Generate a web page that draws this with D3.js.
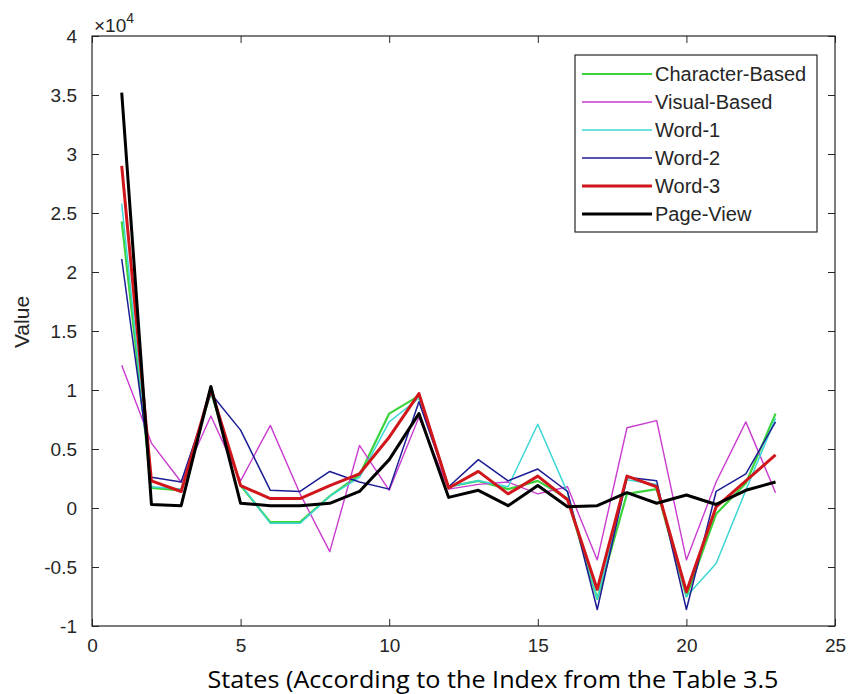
<!DOCTYPE html>
<html>
<head>
<meta charset="utf-8">
<script src="https://cdn.jsdelivr.net/npm/d3@7"></script>
<style>
  html, body { margin: 0; padding: 0; background: #fff; }
  svg { display: block; }
</style>
</head>
<body>
<svg id="chart"></svg>
<script>
// states 1..23
const states = d3.range(1, 24);

const characterBased = [24300, 1700, 1500, 9800, 1900, -1200, -1200, 1000, 2800, 8000, 9500, 1800, 2300, 1600, 2300, 800, -7700, 1200, 1600, -7500, -500, 2100, 8000];
const visualBased    = [12100, 5500, 2200, 7800, 2300, 7000, 1200, -3700, 5300, 1500, 7700, 1600, 2000, 2200, 1200, 1800, -4400, 6800, 7400, -4400, 2200, 7300, 1300];
const word1          = [25800, 1800, 1600, 9800, 2000, -1300, -1300, 1000, 2600, 7300, 9300, 1800, 2300, 1800, 7100, 1300, -7700, 2400, 2000, -7500, -4700, 1500, 7600];
const word2          = [21100, 2600, 2200, 9700, 6600, 1500, 1400, 3100, 2200, 1600, 9000, 1800, 4100, 2300, 3300, 1400, -8600, 2600, 2300, -8600, 1400, 2900, 7300];
const word3          = [29000, 2300, 1400, 10100, 1900, 800, 800, 1900, 2900, 6000, 9700, 1700, 3100, 1200, 2700, 700, -6900, 2700, 1800, -7100, 100, 2300, 4500];
const pageView       = [35200, 300, 200, 10300, 400, 200, 200, 400, 1400, 4100, 8000, 900, 1500, 200, 1900, 100, 200, 1300, 400, 1100, 300, 1500, 2200];

const xTicks = [0, 5, 10, 15, 20, 25];
const yTicks = [-10000, -5000, 0, 5000, 10000, 15000, 20000, 25000, 30000, 35000, 40000];

const series = [
	{ name: "Character-Based", values: characterBased, color: "#3cd43c", width: 2.2 },
	{ name: "Visual-Based",    values: visualBased,    color: "#c93ccf", width: 1.4 },
	{ name: "Word-1",          values: word1,          color: "#3cd6d6", width: 1.5 },
	{ name: "Word-2",          values: word2,          color: "#1c1c94", width: 1.5 },
	{ name: "Word-3",          values: word3,          color: "#d0161b", width: 3 },
	{ name: "Page-View",       values: pageView,       color: "#000000", width: 3 }
];

const width = 852;
const height = 694;
const box = { left: 92, right: 835, top: 36, bottom: 626 };
const axisColor = "#262626";
const tickLen = 7;
const font = "'Liberation Sans', Arial, sans-serif";

const svg = d3.select("#chart")
	.attr("width", width)
	.attr("height", height);

const x = d3.scaleLinear().domain([0, 25]).range([box.left, box.right]);
const y = d3.scaleLinear().domain([-10000, 40000]).range([box.bottom, box.top]);

// ticks, all pointing inward like matlab
const tickFmt = v => String(v / 10000);

svg.append("g")
	.attr("transform", `translate(0, ${box.bottom})`)
	.call(d3.axisBottom(x).tickValues(xTicks).tickSize(-tickLen).tickPadding(13).tickFormat(d3.format("d")))
	.call(g => g.select(".domain").remove());

svg.append("g")
	.attr("transform", `translate(0, ${box.top})`)
	.call(d3.axisTop(x).tickValues(xTicks).tickSize(-tickLen).tickFormat(""))
	.call(g => g.select(".domain").remove());

svg.append("g")
	.attr("transform", `translate(${box.left}, 0)`)
	.call(d3.axisLeft(y).tickValues(yTicks).tickSize(-tickLen).tickPadding(15).tickFormat(tickFmt))
	.call(g => g.select(".domain").remove());

svg.append("g")
	.attr("transform", `translate(${box.right}, 0)`)
	.call(d3.axisRight(y).tickValues(yTicks).tickSize(-tickLen).tickFormat(""))
	.call(g => g.select(".domain").remove());

svg.selectAll(".tick line").attr("stroke", axisColor).attr("stroke-width", 1);
svg.selectAll(".tick text")
	.attr("fill", axisColor)
	.style("font-family", font)
	.style("font-size", "19px");

// lines
const line = d3.line()
	.x((d, i) => x(states[i]))
	.y(d => y(d));

svg.append("g")
	.selectAll("path")
	.data(series)
	.join("path")
	.attr("d", s => line(s.values))
	.attr("fill", "none")
	.attr("stroke", s => s.color)
	.attr("stroke-width", s => s.width)
	.attr("stroke-linejoin", "round");

// axes box
svg.append("rect")
	.attr("x", box.left)
	.attr("y", box.top)
	.attr("width", box.right - box.left)
	.attr("height", box.bottom - box.top)
	.attr("fill", "none")
	.attr("stroke", axisColor)
	.attr("stroke-width", 1.2);

// exponent label
const expo = svg.append("text")
	.attr("x", 94)
	.attr("y", 32)
	.attr("fill", axisColor)
	.style("font-family", font)
	.style("font-size", "19px");
expo.append("tspan").text("\u00d710");
expo.append("tspan").attr("dy", -9).style("font-size", "14px").text("4");

// axis labels
svg.append("text")
	.attr("x", 493)
	.attr("y", 688)
	.attr("text-anchor", "middle")
	.attr("textLength", 571)
	.attr("lengthAdjust", "spacingAndGlyphs")
	.attr("fill", "#000")
	.style("font-family", "'Open Sans', 'Noto Sans', sans-serif")
	.style("font-size", "23px")
	.text("States (According to the Index from the Table 3.5");

svg.append("text")
	.attr("transform", "translate(29, 322) rotate(-90)")
	.attr("text-anchor", "middle")
	.attr("fill", axisColor)
	.style("font-family", font)
	.style("font-size", "21px")
	.text("Value");

// legend
const legend = svg.append("g");
legend.append("rect")
	.attr("x", 575)
	.attr("y", 55)
	.attr("width", 242)
	.attr("height", 177)
	.attr("fill", "#fff")
	.attr("stroke", axisColor)
	.attr("stroke-width", 1.2);

const item = legend.selectAll("g.item")
	.data(series)
	.join("g")
	.attr("class", "item")
	.attr("transform", (d, i) => `translate(0, ${74 + i * 28})`);

item.append("line")
	.attr("x1", 582)
	.attr("x2", 652)
	.attr("stroke", d => d.color)
	.attr("stroke-width", d => d.width);

item.append("text")
	.attr("x", 655)
	.attr("dy", "0.35em")
	.attr("fill", axisColor)
	.style("font-family", font)
	.style("font-size", "20px")
	.text(d => d.name);
</script>
</body>
</html>
